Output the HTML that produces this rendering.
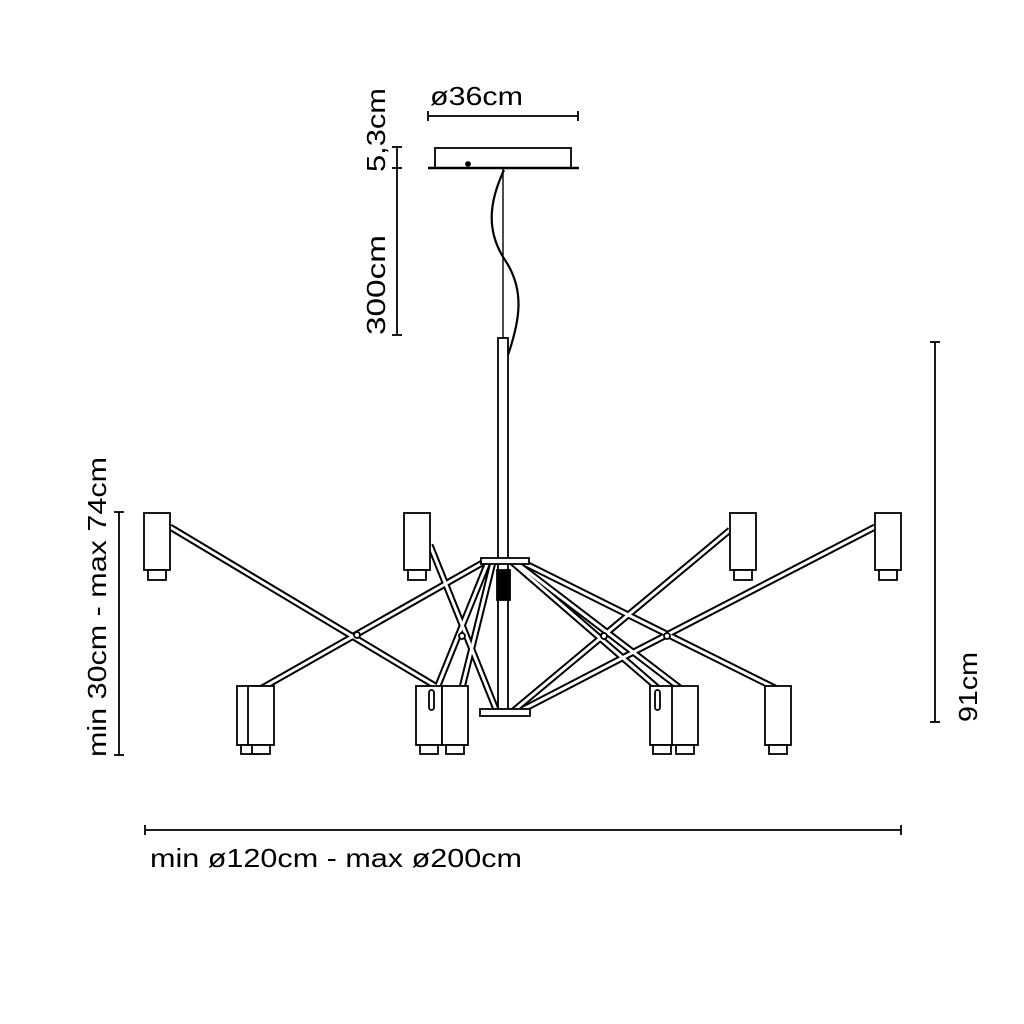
<!DOCTYPE html>
<html><head><meta charset="utf-8"><style>
html,body{margin:0;padding:0;background:#fff;}
svg{display:block}
text{font-family:"Liberation Sans",sans-serif;fill:#000;}
</style></head><body>
<svg width="1024" height="1024" viewBox="0 0 1024 1024" xmlns="http://www.w3.org/2000/svg">
<rect width="1024" height="1024" fill="#fff"/>
<g stroke="#000" stroke-width="1.8" fill="none">
<line x1="428" y1="116" x2="578" y2="116"/><line x1="428" y1="111" x2="428" y2="121"/><line x1="578" y1="111" x2="578" y2="121"/>
<rect x="435" y="148" width="136" height="20" fill="#fff"/>
<line x1="428" y1="168" x2="579" y2="168" stroke-width="2.4"/>
<line x1="397" y1="146" x2="397" y2="335"/>
<line x1="392" y1="147" x2="402" y2="147"/><line x1="392" y1="168" x2="402" y2="168"/><line x1="392" y1="335" x2="402" y2="335"/>
<circle cx="468" cy="164" r="2" fill="#000"/>
<line x1="503" y1="168" x2="503" y2="338" stroke-width="1.4"/>
<path d="M504,170 C490,200 485,230 505,260 C525,290 520,320 508,355" stroke-width="2.2"/>
<rect x="498" y="338" width="10" height="374" fill="#fff"/>
<line x1="935" y1="342" x2="935" y2="722"/><line x1="930" y1="342" x2="940" y2="342"/><line x1="930" y1="722" x2="940" y2="722"/>
<line x1="119" y1="512" x2="119" y2="755"/><line x1="114" y1="512" x2="124" y2="512"/><line x1="114" y1="755" x2="124" y2="755"/>
<line x1="145" y1="830" x2="901" y2="830"/><line x1="145" y1="825" x2="145" y2="835"/><line x1="901" y1="825" x2="901" y2="835"/>
</g>
<g fill="none">
<g stroke="#000" stroke-width="7">
<path d="M170,527 L442,690"/>
<path d="M484,562 L262,688"/>
<path d="M430,545 L497,712"/>
<path d="M488,562 L437,688"/>
<path d="M493,562 L462,688"/>
<path d="M730,530 L512,712"/>
<path d="M875,527 L518,712"/>
<path d="M515,562 L680,688"/>
<path d="M522,562 L775,688"/>
<path d="M512,562 L660,690"/>
</g>
<g stroke="#fff" stroke-width="3">
<path d="M170,527 L442,690"/>
<path d="M484,562 L262,688"/>
<path d="M430,545 L497,712"/>
<path d="M488,562 L437,688"/>
<path d="M493,562 L462,688"/>
<path d="M730,530 L512,712"/>
<path d="M875,527 L518,712"/>
<path d="M515,562 L680,688"/>
<path d="M522,562 L775,688"/>
<path d="M512,562 L660,690"/>
</g>
</g>
<g stroke="#000" stroke-width="1.8" fill="#fff">
<rect x="481" y="558" width="48" height="6"/>
<rect x="480" y="709" width="50" height="7"/>
<rect x="497" y="570" width="13" height="30" fill="#000"/>
<circle cx="357" cy="635" r="3"/><circle cx="462" cy="636" r="3"/><circle cx="604" cy="636" r="3"/><circle cx="667" cy="636" r="3"/>
</g>
<g stroke="#000" stroke-width="1.8" fill="#fff">
<rect x="144" y="513" width="26" height="57"/><rect x="148" y="570" width="18" height="10"/>
<rect x="404" y="513" width="26" height="57"/><rect x="408" y="570" width="18" height="10"/>
<rect x="730" y="513" width="26" height="57"/><rect x="734" y="570" width="18" height="10"/>
<rect x="875" y="513" width="26" height="57"/><rect x="879" y="570" width="18" height="10"/>
<rect x="237" y="686" width="25" height="59"/><rect x="241" y="745" width="18" height="9"/>
<rect x="248" y="686" width="26" height="59"/><rect x="252" y="745" width="18" height="9"/>
<rect x="416" y="686" width="26" height="59"/><rect x="420" y="745" width="18" height="9"/>
<rect x="442" y="686" width="26" height="59"/><rect x="446" y="745" width="18" height="9"/>
<rect x="650" y="686" width="23" height="59"/><rect x="653" y="745" width="18" height="9"/>
<rect x="672" y="686" width="26" height="59"/><rect x="676" y="745" width="18" height="9"/>
<rect x="765" y="686" width="26" height="59"/><rect x="769" y="745" width="18" height="9"/>
<rect x="429" y="690" width="5" height="20" rx="2.5"/>
<rect x="655" y="690" width="5" height="20" rx="2.5"/>
</g>
<g font-size="26" lengthAdjust="spacingAndGlyphs">
<text x="430" y="105" textLength="93" lengthAdjust="spacingAndGlyphs">ø36cm</text>
<text transform="translate(385,172) rotate(-90)" textLength="84" lengthAdjust="spacingAndGlyphs">5,3cm</text>
<text transform="translate(385,335) rotate(-90)" textLength="100" lengthAdjust="spacingAndGlyphs">300cm</text>
<text transform="translate(106,757) rotate(-90)" textLength="300" lengthAdjust="spacingAndGlyphs">min 30cm - max 74cm</text>
<text transform="translate(977,722) rotate(-90)" textLength="70" lengthAdjust="spacingAndGlyphs">91cm</text>
<text x="150" y="867" textLength="372" lengthAdjust="spacingAndGlyphs">min ø120cm - max ø200cm</text>
</g>
</svg>
</body></html>
